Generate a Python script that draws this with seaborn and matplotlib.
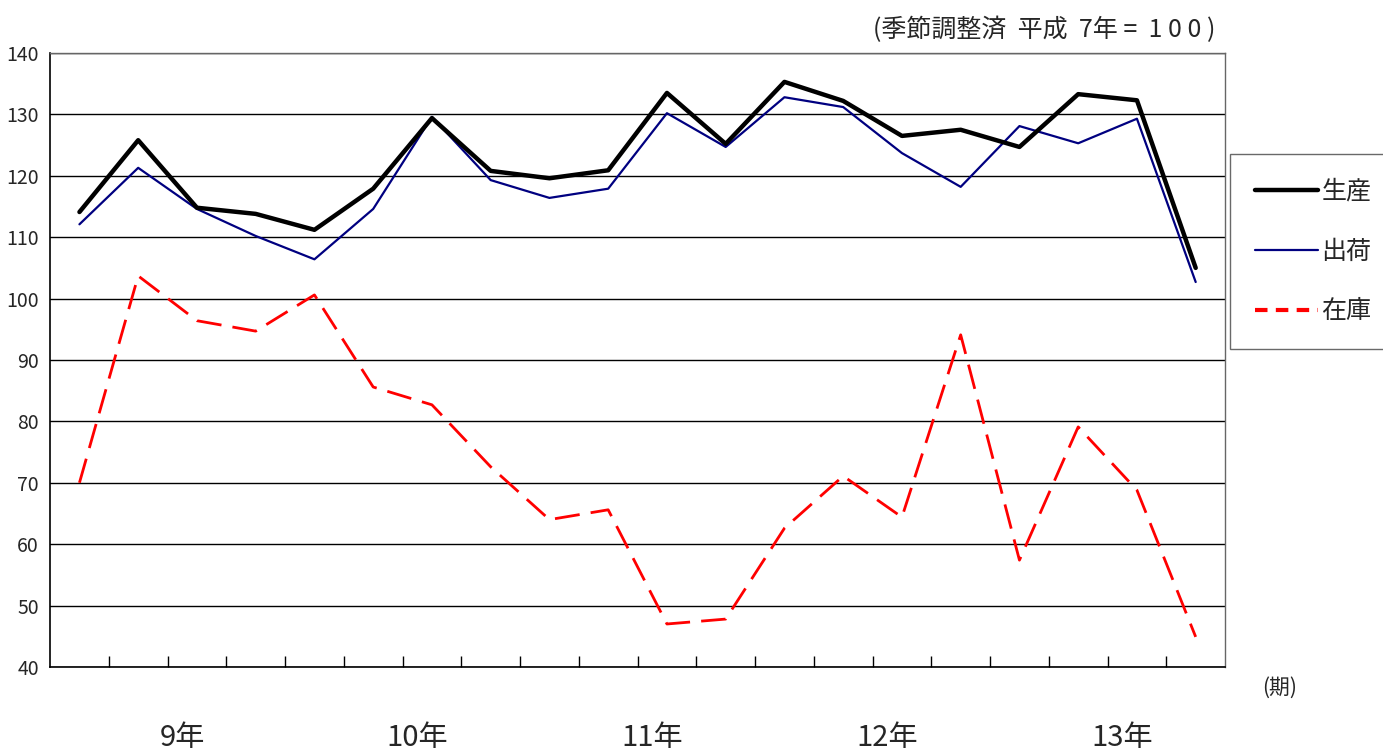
import pandas as pd
import numpy as np
import matplotlib
matplotlib.use('Agg')
import matplotlib.pyplot as plt
import seaborn as sns
from matplotlib.lines import Line2D
from matplotlib.transforms import blended_transform_factory

# Datos (四半期, 平成9年〜13年)
years = ['9年', '10年', '11年', '12年', '13年']
production = [114.1, 125.8, 114.8, 113.8, 111.2, 117.9, 129.4, 120.8, 119.6, 120.9,
              133.5, 125.2, 135.3, 132.2, 126.5, 127.5, 124.7, 133.3, 132.3, 105.0]
shipments = [112.1, 121.3, 114.6, 110.2, 106.4, 114.6, 129.6, 119.3, 116.4, 117.9,
             130.2, 124.7, 132.8, 131.2, 123.7, 118.2, 128.1, 125.3, 129.3, 102.7]
inventory = [70.0, 103.7, 96.4, 94.7, 100.6, 85.6, 82.7, 72.6, 64.0, 65.6,
             47.0, 47.8, 62.6, 71.1, 64.4, 94.1, 57.4, 79.1, 68.8, 44.9]

df = pd.DataFrame({'q': np.arange(len(production)),
                   '生産': production, '出荷': shipments, '在庫': inventory})

sns.set_style("white")
plt.rcParams['font.family'] = ['Liberation Sans Narrow', 'Noto Sans CJK JP', 'DejaVu Sans']

fig = plt.figure(figsize=(13.83, 7.51), dpi=100)
ax = fig.add_axes([0.0362, 0.1119, 0.8496, 0.8175])

sns.lineplot(data=df, x='q', y='在庫', ax=ax, color='#ff0000', lw=2, dashes=False)
ax.lines[-1].set_dashes((9, 4))
sns.lineplot(data=df, x='q', y='出荷', ax=ax, color='#000080', lw=1.6)
sns.lineplot(data=df, x='q', y='生産', ax=ax, color='black', lw=3.2)

ax.set_xlim(-0.5, len(production) - 0.5)
ax.set_ylim(40, 140)
ax.set_yticks(np.arange(40, 141, 10))
ax.yaxis.grid(True, color='black', lw=1)
ax.set_axisbelow(True)
ax.set_xlabel('')
ax.set_ylabel('')

# 目盛り (四半期の境目)
ax.set_xticks(np.arange(0.5, len(production) - 1, 1))
ax.set_xticklabels([])
ax.tick_params(axis='x', direction='in', length=8, width=1, color='black', bottom=True)
ax.tick_params(axis='y', labelsize=14, length=0, pad=8)

for s in ['left', 'bottom']:
    ax.spines[s].set_color('black')
    ax.spines[s].set_linewidth(1.2)
for s in ['top', 'right']:
    ax.spines[s].set_color('#666666')
    ax.spines[s].set_linewidth(1)

# 年ラベル
trans = blended_transform_factory(ax.transData, ax.transAxes)
for i, y in enumerate(years):
    ax.text(1.5 + 4 * i + 0.25, -0.115, y, transform=trans, ha='center', va='center',
            fontsize=21, family=['Liberation Sans Narrow', 'Noto Sans CJK JP'])

fig.text(0.9255, 0.084, '(期)', fontsize=15, ha='center', va='center',
         family=['Noto Sans CJK JP'])
fig.text(0.879, 0.96, '(季節調整済  平成  7年 =  1 0 0 )', fontsize=18, ha='right', va='center',
         family=['Noto Sans CJK JP', 'DejaVu Sans'])

handles = [Line2D([], [], color='black', lw=3.2),
           Line2D([], [], color='#000080', lw=1.6),
           Line2D([], [], color='#ff0000', lw=3, dashes=(3, 2))]
leg = fig.legend(handles, ['生産', '出荷', '在庫'], loc='upper left',
                 bbox_to_anchor=(0.8895, 0.795), frameon=True, fancybox=False,
                 handlelength=2.5, handletextpad=0.15, labelspacing=1.35,
                 borderpad=1.0, borderaxespad=0,
                 prop={'family': ['Noto Sans CJK JP'], 'size': 18})
leg.get_frame().set_edgecolor('#444444')
leg.get_frame().set_linewidth(1)

fig.savefig('out.png', dpi=100)
